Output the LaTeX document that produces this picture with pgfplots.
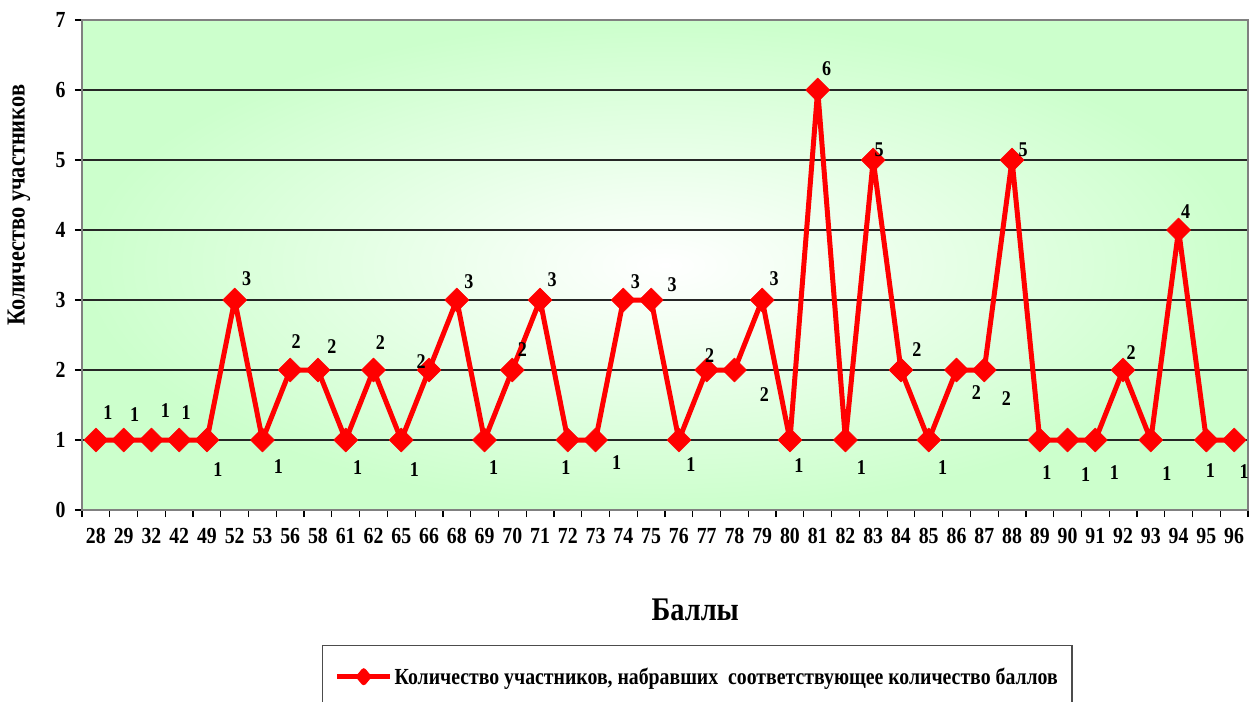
\documentclass[border=0pt]{standalone}
\usepackage{fontspec}
\setmainfont{Liberation Serif}[FakeStretch=0.86]
\usepackage{pgfplots}
\pgfplotsset{compat=1.18}
\usepackage{pgfplotstable}

\definecolor{bggreen}{RGB}{204,255,204}
\definecolor{lineRed}{RGB}{255,0,0}

% i = category index, y = count, dx/dy = label offset from the point
\pgfplotstableread{
i  y  dx  dy
0  1  12  27
1  1  11  25
2  1  14  29
3  1  7   27
4  1  11  -30
5  3  12  21
6  1  16  -27
7  2  6   28
8  2  14  23
9  1  12  -28
10 2  7   27
11 1  13  -30
12 2  -8  8
13 3  12  18
14 1  9   -28
15 2  10  20
16 3  12  20
17 1  -2  -28
18 1  21  -23
19 3  12  18
20 3  21  15
21 1  12  -25
22 2  3   14
23 2  30  -25
24 3  12  21
25 1  9   -26
26 6  9   21
27 1  16  -28
28 5  6   10
29 2  16  20
30 1  14  -28
31 2  20  -23
32 2  22  -29
33 5  11  10
34 1  7   -33
35 1  18  -35
36 1  19  -33
37 2  8   17
38 1  16  -34
39 4  7   18
40 1  4   -31
41 1  10  -32
}\counts

\begin{document}
\begin{tikzpicture}
\begin{axis}[
    scale only axis,
    width=1166pt, height=490pt,
    xmin=-0.5, xmax=41.5,
    ymin=0, ymax=7,
    xtick={-0.5,0.5,...,41.5},
    xticklabels={},
    extra x ticks={0,...,41},
    extra x tick labels={28,29,32,42,49,52,53,56,58,61,62,65,66,68,69,70,71,72,73,74,75,76,77,78,79,80,81,82,83,84,85,86,87,88,89,90,91,92,93,94,95,96},
    extra x tick style={major tick length=0pt, grid=none,
        xticklabel style={yshift=-15pt}},
    ytick={0,...,7},
    yticklabel style={xshift=-6pt},
    tick align=outside,
    tick pos=left,
    major tick length=7pt,
    tick style={black, line width=1.2pt},
    ymajorgrids,
    grid style={black!85, line width=1.1pt},
    axis line style={draw=gray, line width=2pt},
    axis background/.style={shade, inner color=white, outer color=bggreen},
    /pgf/number format/assume math mode=true,
    ticklabel style={font=\fontsize{23}{25}\selectfont\bfseries},
    xlabel={Баллы},
    xlabel style={at={(axis description cs:0.526,-0.204)}, anchor=center,
        font=\fontsize{33}{40}\selectfont\bfseries},
    ylabel={Количество участников},
    ylabel style={at={(axis description cs:-0.054,0.622)}, anchor=center,
        font=\fontsize{26}{28}\selectfont\bfseries},
    legend style={at={(axis description cs:0.2058,-0.2755)}, anchor=north west,
        draw=gray!60!black, line width=1.5pt, inner xsep=12pt, inner ysep=20pt,
        font=\fontsize{23}{25}\selectfont\bfseries},
    legend cell align=left,
]
\addplot[
    lineRed, line width=5pt, line join=round,
    mark=square*, mark size=8.5pt,
    mark options={rotate=45, line width=0.5pt},
    point meta=explicit symbolic,
    nodes near coords,
    visualization depends on={\thisrow{dx}\as\dx},
    visualization depends on={\thisrow{dy}\as\dy},
    every node near coord/.append style={anchor=center, text=black,
        xshift=\dx pt, yshift=\dy pt,
        font=\fontsize{21}{23}\selectfont\bfseries},
    legend image code/.code={
        \draw[lineRed, line width=5pt] (0pt,0pt) -- (53pt,0pt);
        \fill[lineRed] (26.5pt,0pt) +(-5pt,0pt) -- +(0pt,6pt) -- +(5pt,0pt) -- +(0pt,-6pt) -- cycle;
    },
] table[x=i, y=y, meta=y] {\counts};
\addlegendentry{Количество участников, набравших\ \ соответствующее количество баллов}
\end{axis}
\pgfresetboundingbox
\path[use as bounding box] ([shift={(-82pt,-191pt)}]current axis.south west)
    rectangle ([shift={(3pt,20pt)}]current axis.north east);
\end{tikzpicture}
\end{document}
